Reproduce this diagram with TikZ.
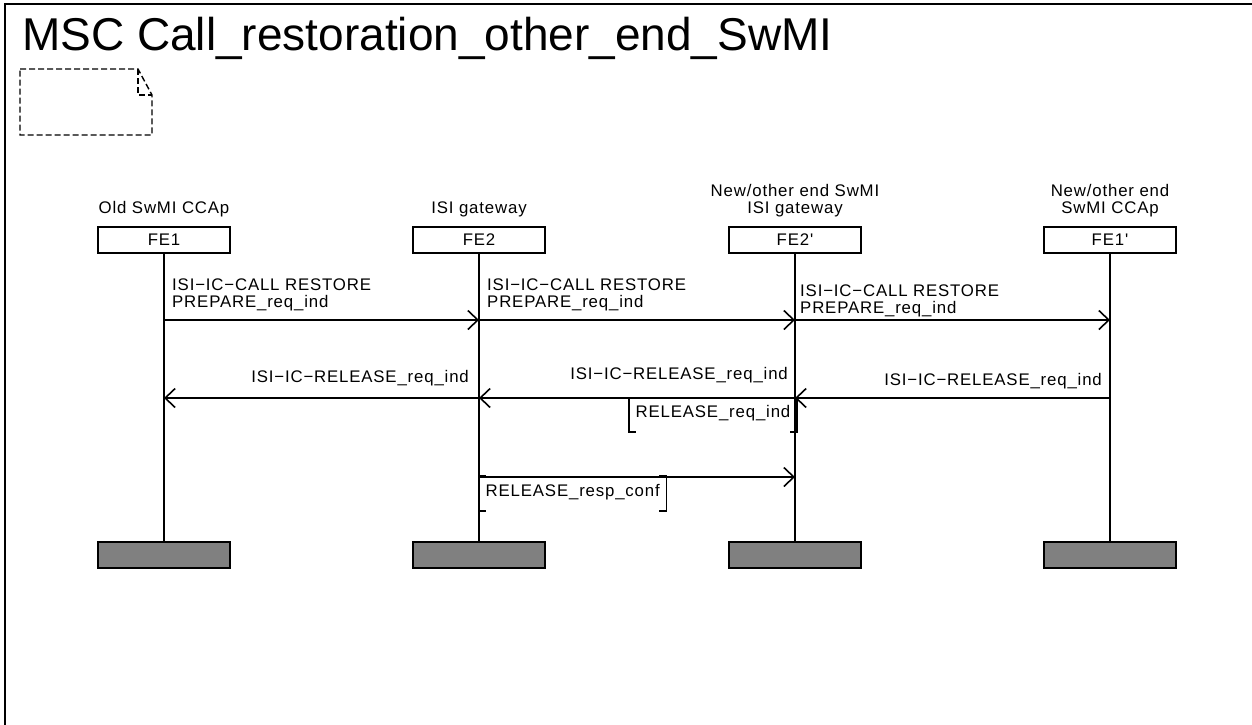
\documentclass[tikz,border=0pt]{standalone}
\usepackage{fontspec}
\setmainfont{Liberation Sans}
\newfontfamily\msgfont{Liberation Sans}[LetterSpace=5]
\usetikzlibrary{arrows.meta}

\tikzset{
  inst/.style={draw,line width=1.7pt,minimum width=132pt,minimum height=26pt,inner sep=0pt,
    font=\msgfont\fontsize{16.8}{17}\selectfont},
  inststop/.style={inst,fill=gray},
  instname/.style={align=center,inner sep=0pt,font=\msgfont\fontsize{16.8}{17}\selectfont},
  life/.style={line width=1.6pt},
  msg/.style={line width=1.6pt,-{Straight Barb[length=10pt,width=19pt]}},
  msglabel/.style={align=left,inner sep=0pt,font=\msgfont\fontsize{16.8}{17}\selectfont},
  brtext/.style={msglabel,inner xsep=6.5pt,inner ysep=0pt,text depth=15pt},
  br/.style={line width=1.9pt},
  notebox/.style={line width=1.4pt,dash pattern=on 6pt off 3pt},
}

\begin{document}
\begin{tikzpicture}[x=1pt,y=-1pt]
  \useasboundingbox (0,0) rectangle (1252,724);
  % frame and title
  \draw[line width=2pt] (5,740) -- (5,4) -- (1270,4);
  \node[anchor=base west,inner sep=0pt,font=\fontsize{46}{46}\selectfont] (title) at (22,50)
    {MSC Call\_restoration\_other\_end\_SwMI};
  \draw[notebox] (20,69) -- (138,69) -- (152,95) -- (152,135) -- (20,135) -- cycle;
  \draw[notebox] (138,69) -- (138,95) -- (152,95);

  % instances
  \node[inst] (fe1) at (164,240) {FE1};
  \node[inst] (fe2) at (479,240) {FE2};
  \node[inst] (fe2p) at (795,240) {FE2'};
  \node[inst] (fe1p) at (1110,240) {FE1'};
  \node[instname,anchor=south] (n1) at (164,217) {Old SwMI CCAp};
  \node[instname,anchor=south] (n2) at (479,217) {ISI gateway};
  \node[instname,anchor=south] (n3) at (795,217) {New/other end SwMI\\ISI gateway};
  \node[instname,anchor=south] (n4) at (1110,217) {New/other end\\SwMI CCAp};
  \node[inststop] (fe1-end) at (164,555) {};
  \node[inststop] (fe2-end) at (479,555) {};
  \node[inststop] (fe2p-end) at (795,555) {};
  \node[inststop] (fe1p-end) at (1110,555) {};
  \foreach \i in {fe1,fe2,fe2p,fe1p}
    \draw[life] (\i) -- (\i-end);

  % messages
  \foreach \a/\b/\y in {fe1/fe2/320,fe2/fe2p/320,fe2p/fe1p/320,fe1p/fe2p/398,fe2p/fe2/398,fe2/fe1/398,fe2/fe2p/477}
    \draw[msg] (\a |- 0,\y) -- (\b |- 0,\y);
  \node[msglabel,anchor=south west] (l1) at (172,311) {ISI−IC−CALL RESTORE\\PREPARE\_req\_ind};
  \node[msglabel,anchor=south west] (l2) at (487,311) {ISI−IC−CALL RESTORE\\PREPARE\_req\_ind};
  \node[msglabel,anchor=south west] (l3) at (800,317) {ISI−IC−CALL RESTORE\\PREPARE\_req\_ind};
  \node[msglabel,anchor=base east] (l4) at (1102,385) {ISI−IC−RELEASE\_req\_ind};
  \node[msglabel,anchor=base east] (l5) at (788,379) {ISI−IC−RELEASE\_req\_ind};
  \node[msglabel,anchor=base east] (l6) at (469,382) {ISI−IC−RELEASE\_req\_ind};

  % bracketed texts
  \node[brtext,text height=19pt,anchor=north east] (rq) at (797,398) {RELEASE\_req\_ind};
  \node[brtext,text height=20pt,anchor=north west] (rs) at (479,476) {RELEASE\_resp\_conf};
  \foreach \n in {rq,rs} {
    \draw[br] ([xshift=7pt]\n.north west) -- (\n.north west) -- (\n.south west) -- ([xshift=7pt]\n.south west);
    \draw[br] ([xshift=-7pt]\n.north east) -- (\n.north east) -- (\n.south east) -- ([xshift=-7pt]\n.south east);
  }
\end{tikzpicture}
\end{document}
